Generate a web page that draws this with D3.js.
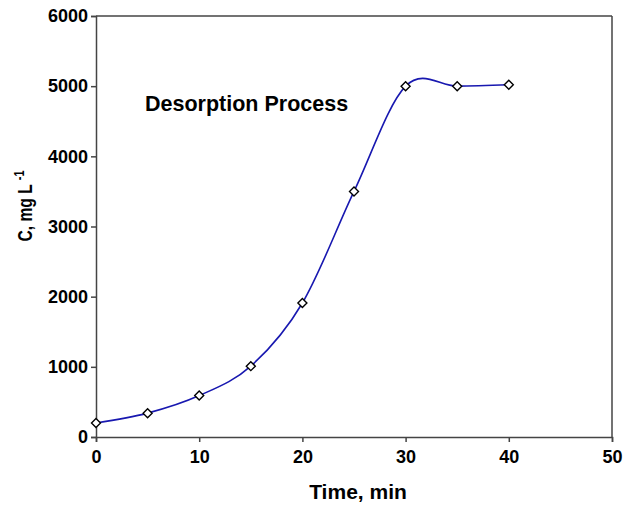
<!DOCTYPE html>
<html><head><meta charset="utf-8">
<script src="https://cdn.jsdelivr.net/npm/d3@7"></script>
<style>body{margin:0;background:#fff}text{font-family:"Liberation Sans",Arial,sans-serif;font-weight:bold;fill:#000}</style>
</head><body>
<svg id="c" width="624" height="505"></svg>
<script>
const timeMin = [0, 5, 10, 15, 20, 25, 30, 35, 40];
const concentration = [200, 340, 590, 1010, 1910, 3500, 5000, 5000, 5020];
const xTicks = [0, 10, 20, 30, 40, 50];
const yTicks = [0, 1000, 2000, 3000, 4000, 5000, 6000];
const chartTitle = "Desorption Process";

const svg = d3.select("#c");
const L = 96, R = 612, T = 16, B = 437;
const x = d3.scaleLinear().domain([0, 50]).range([L, R]);
const y = d3.scaleLinear().domain([0, 6000]).range([B, T]);

const ax = svg.append("g").attr("transform", `translate(0,${B})`)
  .call(d3.axisBottom(x).tickValues(xTicks).tickSize(5).tickPadding(8).tickFormat(d3.format("d")));
const ay = svg.append("g").attr("transform", `translate(${L},0)`)
  .call(d3.axisLeft(y).tickValues(yTicks).tickSize(5).tickPadding(3).tickFormat(d3.format("d")));
[ax, ay].forEach(g => {
  g.selectAll("path,line").attr("stroke", "#444").attr("stroke-width", 1.5);
  g.selectAll("text").style("font-size", "18px").attr("fill", "#000");
});
// frame
svg.append("line").attr("x1", L).attr("x2", R).attr("y1", T).attr("y2", T).attr("stroke", "#444").attr("stroke-width", 1.5);
svg.append("line").attr("x1", R).attr("x2", R).attr("y1", T).attr("y2", B).attr("stroke", "#444").attr("stroke-width", 1.5);

const pts = timeMin.map((t, i) => [t, concentration[i]]);
svg.append("path").attr("d", d3.line().x(d => x(d[0])).y(d => y(d[1])).curve(d3.curveCatmullRom.alpha(0))(pts))
  .attr("fill", "none").attr("stroke", "#1818b0").attr("stroke-width", 1.6);

svg.selectAll(".m").data(pts).enter().append("path")
  .attr("transform", d => `translate(${x(d[0])},${y(d[1])})`)
  .attr("d", "M0,-4.5L4.5,0L0,4.5L-4.5,0Z")
  .attr("fill", "#fff").attr("stroke", "#000").attr("stroke-width", 1.4);

svg.append("text").attr("x", 145).attr("y", 111).style("font-size", "21.5px").text(chartTitle);
svg.append("text").attr("x", 358).attr("y", 499).attr("text-anchor", "middle").style("font-size", "21px").text("Time, min");
const yl = svg.append("text").attr("transform", `translate(32,206) rotate(-90) scale(0.78,1)`).attr("text-anchor", "middle").style("font-size", "20px");
yl.append("tspan").text("C, mg L ");
yl.append("tspan").attr("dy", -8).style("font-size", "14px").text("-1");
</script>
</body></html>
